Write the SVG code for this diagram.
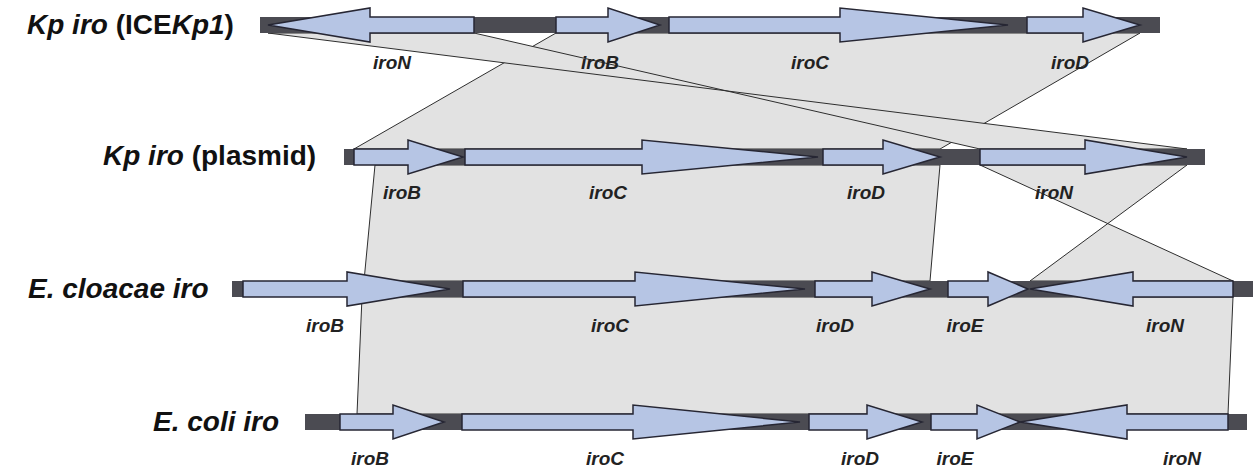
<svg xmlns="http://www.w3.org/2000/svg" width="1253" height="468" viewBox="0 0 1253 468">
<style>
.cmp{fill:#e2e2e2;stroke:#2e2e2e;stroke-width:1}
.bb{fill:#4b4b52}
.gene{fill:#b6c5e4;stroke:#262633;stroke-width:1.5;stroke-linejoin:miter}
.title{font-family:"Liberation Sans",Arial,sans-serif;font-size:28px;font-weight:bold;fill:#111}
.gl{font-family:"Liberation Sans",Arial,sans-serif;font-size:19px;font-weight:bold;font-style:italic;fill:#222;text-anchor:middle}
.it{font-style:italic}
</style>
<rect width="1253" height="468" fill="#ffffff"/>
<g id="connectors">
<polygon class="cmp" points="556,33 1140,33 940,149 354,149"/>
<polygon class="cmp" points="268,33 474,33 980,149 1187,149"/>
<polygon class="cmp" points="375,165 940,165 930,281 364,281"/>
<polygon class="cmp" points="980,165 1187,165 1030,281 1233,281"/>
<polygon class="cmp" points="362,297 1233,297 1228,414 357,414"/>
</g>
<g id="row1">
<text class="title" x="27" y="34"><tspan class="it">Kp iro</tspan> (ICE<tspan class="it">Kp1</tspan>)</text>
<rect class="bb" x="260" y="17" width="900" height="16"/>
<polygon class="gene" points="268,25 370,8 370,17 474,17 474,33 370,33 370,42"/>
<polygon class="gene" points="556,17 608,17 608,8 660,25 608,42 608,33 556,33"/>
<polygon class="gene" points="669,17 840,17 840,8 1008,25 840,42 840,33 669,33"/>
<polygon class="gene" points="1027,17 1083,17 1083,8 1140,25 1083,42 1083,33 1027,33"/>
<text class="gl" x="392" y="69">iroN</text>
<text class="gl" x="600" y="69">iroB</text>
<text class="gl" x="810" y="69">iroC</text>
<text class="gl" x="1070" y="69">iroD</text>
</g>
<g id="row2">
<text class="title" x="103" y="165"><tspan class="it">Kp iro</tspan> (plasmid)</text>
<rect class="bb" x="344" y="149" width="861" height="16"/>
<polygon class="gene" points="354,149 408,149 408,140 463,157 408,174 408,165 354,165"/>
<polygon class="gene" points="465,149 642,149 642,140 818,157 642,174 642,165 465,165"/>
<polygon class="gene" points="823,149 883,149 883,140 940,157 883,174 883,165 823,165"/>
<polygon class="gene" points="980,149 1085,149 1085,140 1187,157 1085,174 1085,165 980,165"/>
<text class="gl" x="402" y="199">iroB</text>
<text class="gl" x="608" y="199">iroC</text>
<text class="gl" x="866" y="199">iroD</text>
<text class="gl" x="1054" y="199">iroN</text>
</g>
<g id="row3">
<text class="title it" x="28" y="298">E. cloacae iro</text>
<rect class="bb" x="232" y="281" width="1021" height="16"/>
<polygon class="gene" points="243,281 347,281 347,272 450,289 347,306 347,297 243,297"/>
<polygon class="gene" points="463,281 635,281 635,272 805,289 635,306 635,297 463,297"/>
<polygon class="gene" points="815,281 872,281 872,272 930,289 872,306 872,297 815,297"/>
<polygon class="gene" points="948,281 988,281 988,272 1028,289 988,306 988,297 948,297"/>
<polygon class="gene" points="1030,289 1133,272 1133,281 1233,281 1233,297 1133,297 1133,306"/>
<text class="gl" x="325" y="332">iroB</text>
<text class="gl" x="610" y="332">iroC</text>
<text class="gl" x="835" y="332">iroD</text>
<text class="gl" x="965" y="332">iroE</text>
<text class="gl" x="1165" y="332">iroN</text>
</g>
<g id="row4">
<text class="title it" x="153" y="431">E. coli iro</text>
<rect class="bb" x="305" y="414" width="942" height="16"/>
<polygon class="gene" points="340,414 393,414 393,405 444,422 393,439 393,430 340,430"/>
<polygon class="gene" points="462,414 633,414 633,405 800,422 633,439 633,430 462,430"/>
<polygon class="gene" points="809,414 867,414 867,405 922,422 867,439 867,430 809,430"/>
<polygon class="gene" points="931,414 977,414 977,405 1020,422 977,439 977,430 931,430"/>
<polygon class="gene" points="1020,422 1127,405 1127,414 1228,414 1228,430 1127,430 1127,439"/>
<text class="gl" x="370" y="465">iroB</text>
<text class="gl" x="605" y="465">iroC</text>
<text class="gl" x="860" y="465">iroD</text>
<text class="gl" x="955" y="465">iroE</text>
<text class="gl" x="1182" y="465">iroN</text>
</g>
</svg>
